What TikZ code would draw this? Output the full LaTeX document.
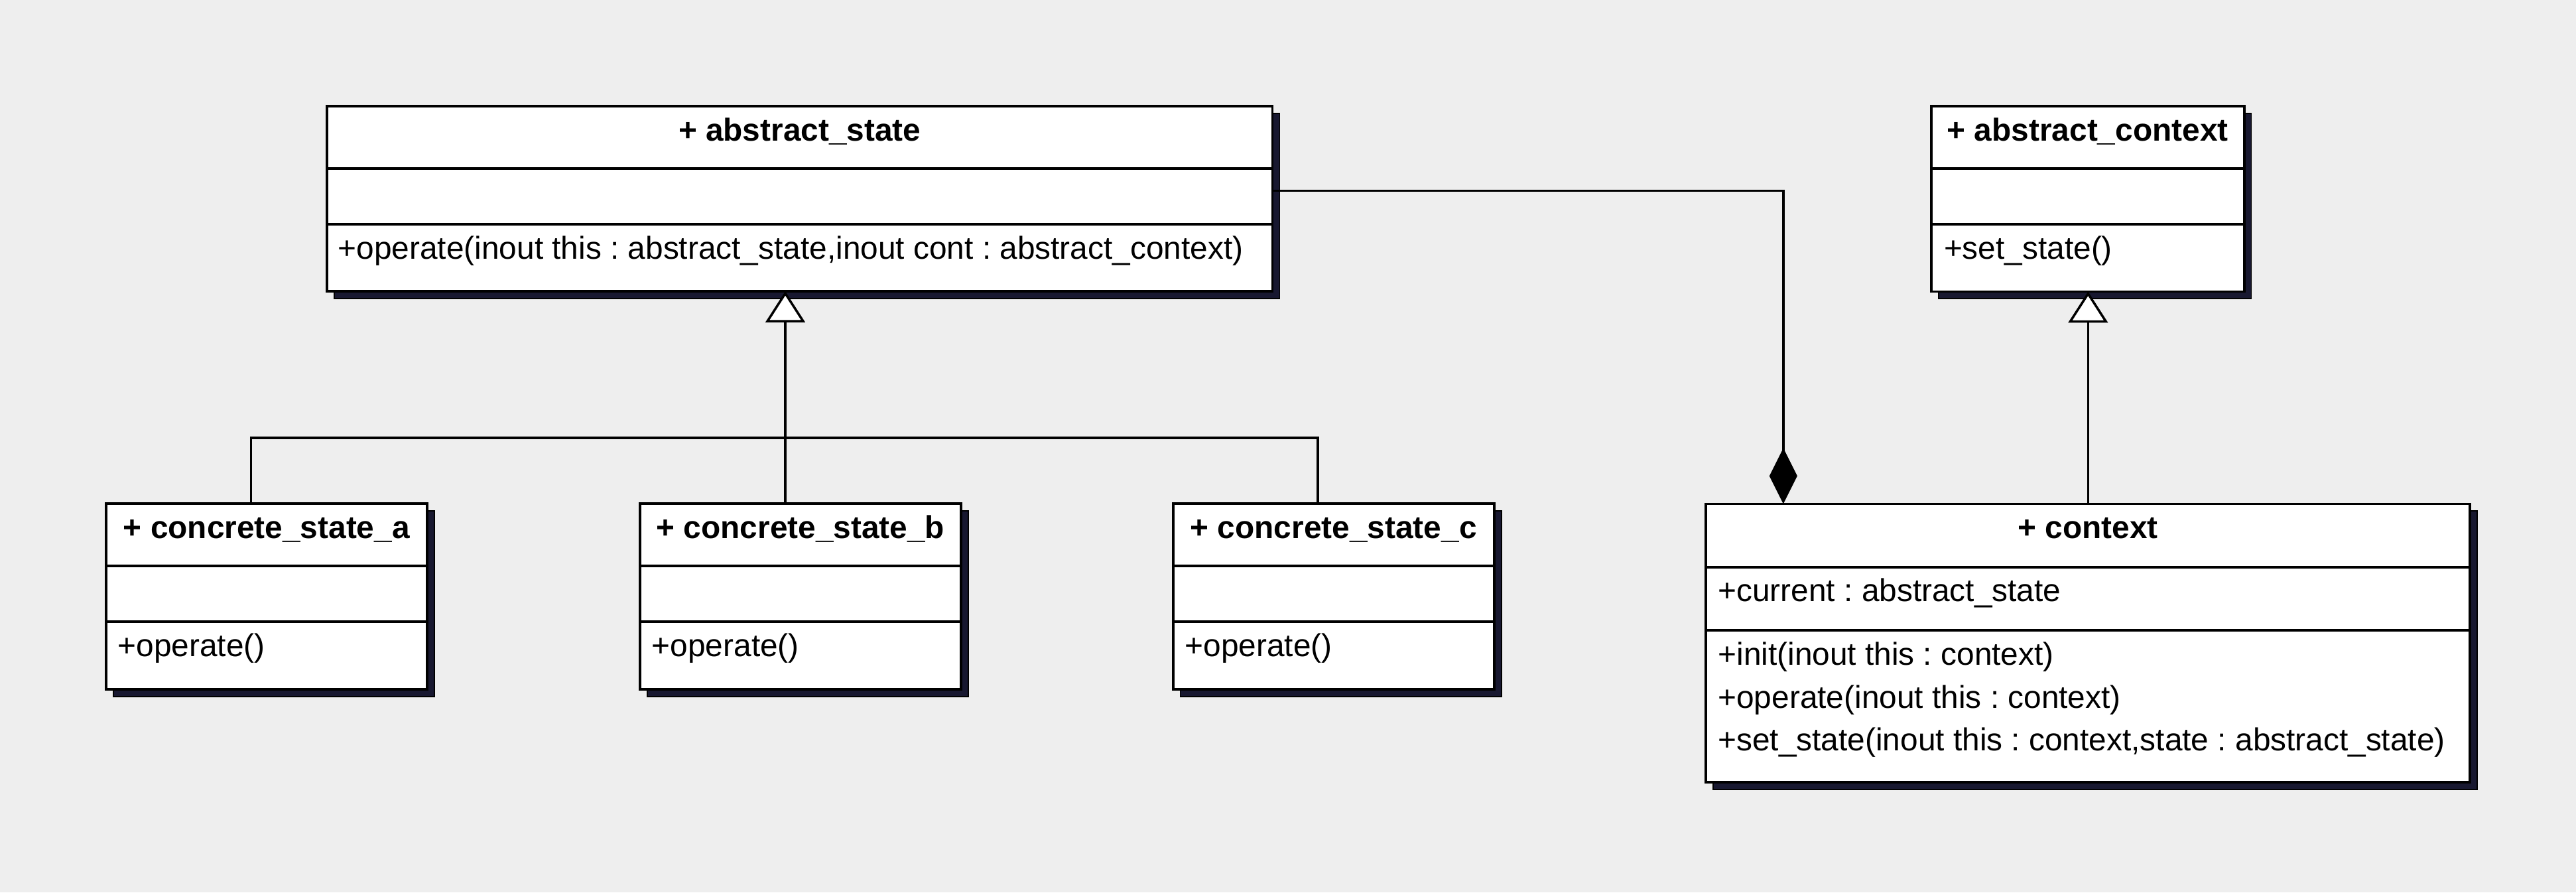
\documentclass[tikz,border=0pt]{standalone}
\usepackage{fontspec}
\setmainfont{Liberation Sans}
\usetikzlibrary{arrows.meta}
\frenchspacing

\definecolor{canvas}{RGB}{238,238,238}
\definecolor{shade}{RGB}{24,24,48}

% one drawing unit, in cm
\newcommand\umlunit{0.02477}

\tikzset{
  classbox/.style={rectangle, draw=black, fill=white, line width=1.1pt,
                   inner sep=0pt, outer sep=0pt},
  divider/.style={draw=black, line width=1.1pt},
  classname/.style={anchor=base, inner sep=0pt, font=\fontsize{13.6pt}{16pt}\selectfont\bfseries},
  member/.style={anchor=base west, inner sep=0pt, font=\fontsize{13.6pt}{16pt}\selectfont},
  link/.style={draw=black, line width=1pt},
  inherit/.style={link, -{Triangle[length=0.47cm, width=0.595cm, fill=white]}},
  compose/.style={link, -{Diamond[length=0.84cm, width=0.42cm, fill=black]}},
}

% #1 name, #2 left, #3 top, #4 right, #5 first rule, #6 second rule, #7 bottom, #8 class name
\newcommand\umlclass[8]{%
  \filldraw[fill=shade, draw=black, line width=0.5pt]
    ({#2+4.4},{#3+4.4}) rectangle ({#4+4.4},{#7+4.4});
  \node[classbox, minimum width={(#4-#2)*\umlunit cm}, minimum height={(#7-#3)*\umlunit cm}]
    (#1) at ({(#2+#4)/2},{(#3+#7)/2}) {};
  \draw[divider] (#2,#5) -- (#4,#5) (#2,#6) -- (#4,#6);
  \node[classname] (#1-name) at ({(#2+#4)/2},{#3+21}) {#8};
}

\begin{document}
\begin{tikzpicture}[x=0.02477cm, y=-0.02477cm]
  \fill[canvas] (0,0) rectangle (1568,543);
  \useasboundingbox (0,0) rectangle (1568,543);

  % classes
  \umlclass{absstate}{199}{64.6}{774.5}{102.5}{136.6}{177.2}{+ abstract\_state}
  \umlclass{abscontext}{1175.5}{64.6}{1366}{102.5}{136.6}{177.4}{+ abstract\_context}
  \umlclass{csa}{64.5}{306.5}{260}{344.5}{378.2}{419.5}{+ concrete\_state\_a}
  \umlclass{csb}{389.5}{306.5}{585}{344.5}{378.2}{419.5}{+ concrete\_state\_b}
  \umlclass{csc}{714}{306.5}{909.5}{344.5}{378.2}{419.5}{+ concrete\_state\_c}
  \umlclass{context}{1038.5}{306.6}{1503.5}{345}{383.5}{476}{+ context}

  % attributes and operations
  \node[member] (absstate-op) at (205.5,157.6)
    {+operate(inout this : abstract\_state,inout cont : abstract\_context)};
  \node[member] (abscontext-op) at (1183,157.6) {+set\_state()};
  \node[member] (csa-op) at (71.5,399.5) {+operate()};
  \node[member] (csb-op) at (396.5,399.5) {+operate()};
  \node[member] (csc-op) at (721,399.5) {+operate()};
  \node[member] (context-attr) at (1045.5,366) {+current : abstract\_state};
  \node[member] (context-op1) at (1045.5,404.8) {+init(inout this : context)};
  \node[member] (context-op2) at (1045.5,430.8) {+operate(inout this : context)};
  \node[member] (context-op3) at (1045.5,456.8)
    {+set\_state(inout this : context,state : abstract\_state)};

  % generalization tree of the concrete states
  \coordinate (fork) at (478,266.5);
  \draw[link] ([xshift=-9.5*\umlunit cm]csa.north) |- (fork);
  \draw[link] ([xshift=-9.5*\umlunit cm]csc.north) |- (fork);
  \draw[inherit] ([xshift=-9.25*\umlunit cm]csb.north) -- (fork)
    -- ([xshift=-8.75*\umlunit cm]absstate.south);

  % context specializes abstract_context
  \draw[inherit] (context.north) -- (context.north |- abscontext.south);

  % context owns the current state
  \draw[compose] ([yshift=4.8*\umlunit cm]absstate.east)
    -| ([xshift=-185.5*\umlunit cm]context.north);
\end{tikzpicture}
\end{document}
